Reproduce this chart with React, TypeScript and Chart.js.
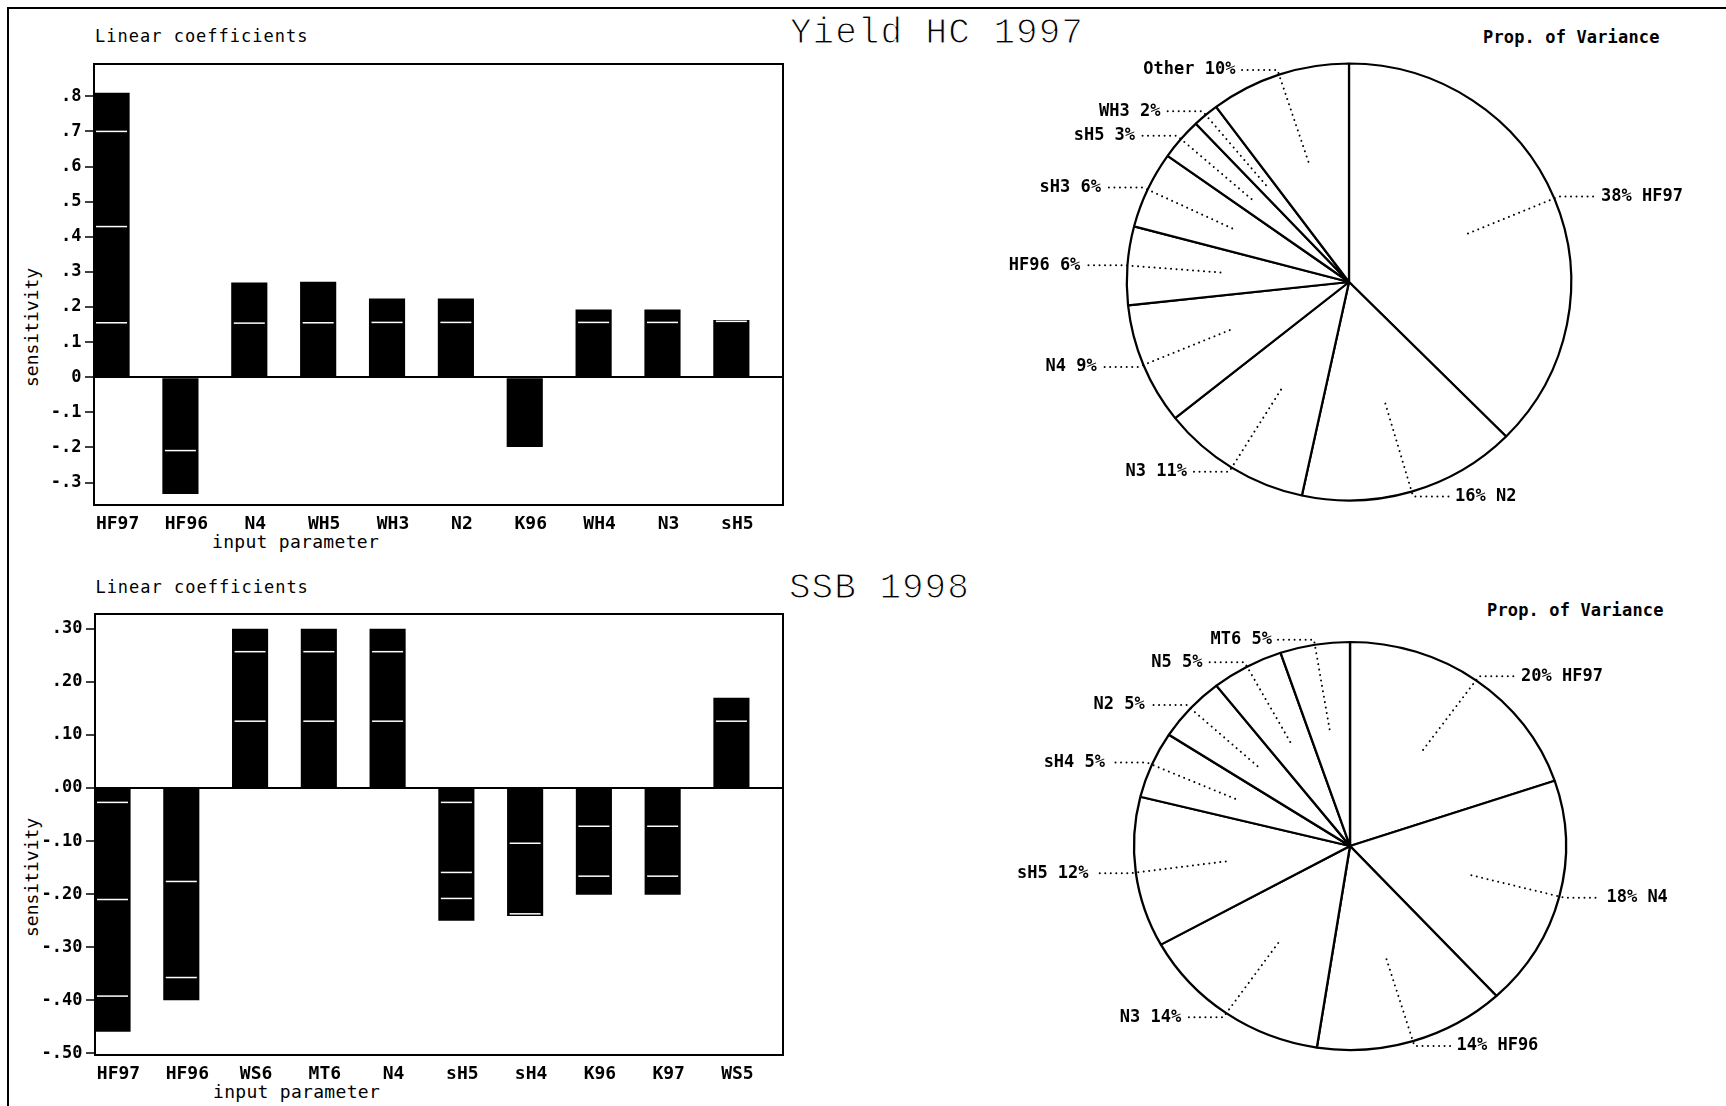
import React, { useEffect, useRef } from 'react';
import { Chart, registerables } from 'chart.js';

Chart.register(...registerables);

const MONO = '"DejaVu Sans Mono", "Liberation Mono", monospace';
const TITLE_FONT = '"Liberation Mono", "DejaVu Sans Mono", monospace';

// ---------- Yield HC 1997 : linear coefficients ----------
const hcCategories = ['HF97', 'HF96', 'N4', 'WH5', 'WH3', 'N2', 'K96', 'WH4', 'N3', 'sH5'];
const hcValues = [0.81, -0.333, 0.27, 0.272, 0.224, 0.224, -0.199, 0.193, 0.193, 0.163];
const hcMarks = [[0.70, 0.429, 0.155], [-0.209], [0.154], [0.155], [0.156], [0.156], [], [0.156], [0.156], [0.159]];
const hcYTicks = [-0.3, -0.2, -0.1, 0, 0.1, 0.2, 0.3, 0.4, 0.5, 0.6, 0.7, 0.8];
const hcYTickLabels = ['-.3', '-.2', '-.1', '0', '.1', '.2', '.3', '.4', '.5', '.6', '.7', '.8'];

// ---------- SSB 1998 : linear coefficients ----------
const ssbCategories = ['HF97', 'HF96', 'WS6', 'MT6', 'N4', 'sH5', 'sH4', 'K96', 'K97', 'WS5'];
const ssbValues = [-0.459, -0.40, 0.30, 0.30, 0.30, -0.25, -0.241, -0.201, -0.201, 0.17];
const ssbMarks = [[-0.027, -0.21, -0.392], [-0.176, -0.357], [0.257, 0.126], [0.257, 0.126], [0.257, 0.126], [-0.027, -0.159, -0.208], [-0.104, -0.237], [-0.072, -0.166], [-0.072, -0.166], [0.126]];
const ssbYTicks = [-0.5, -0.4, -0.3, -0.2, -0.1, 0, 0.1, 0.2, 0.3];
const ssbYTickLabels = ['-.50', '-.40', '-.30', '-.20', '-.10', '.00', '.10', '.20', '.30'];

// ---------- Proportion of variance ----------
const hcPieNames = ['HF97', 'N2', 'N3', 'N4', 'HF96', 'sH3', 'sH5', 'WH3', 'Other'];
const hcPieShares = [37.5, 15.9, 10.9, 9.0, 5.8, 5.7, 3.1, 1.9, 10.2];
const hcPiePercents = [38, 16, 11, 9, 6, 6, 3, 2, 10];

const ssbPieNames = ['HF97', 'N4', 'HF96', 'N3', 'sH5', 'sH4', 'N2', 'N5', 'MT6'];
const ssbPieShares = [19.8, 18.3, 14.3, 14.5, 11.9, 5.3, 5.2, 5.4, 5.2];
const ssbPiePercents = [20, 18, 14, 14, 12, 5, 5, 5, 5];

const framePlugin = {
  id: 'plotFrame',
  afterDraw(chart: any) {
    const { ctx, chartArea: a } = chart;
    if (!a) return;
    ctx.save();
    ctx.strokeStyle = '#000';
    ctx.lineWidth = 2;
    ctx.strokeRect(a.left, a.top, a.right - a.left, a.bottom - a.top);
    ctx.restore();
  },
};

function barConfig(p: {
  categories: string[]; values: number[]; marks: number[][];
  yTicks: number[]; yLabels: string[]; yMin: number; yMax: number;
  yFont: number; axisWidth: number; axisHeight: number; padTop: number; padRight: number;
}): any {
  const markPoints: { x: number; y: number }[] = [];
  p.marks.forEach((list, i) => list.forEach((v) => markPoints.push({ x: i, y: v })));
  return {
    type: 'bar',
    data: {
      datasets: [
        {
          type: 'scatter', data: markPoints, order: 1, showLine: false,
          pointStyle: 'line', pointRadius: 15.5, pointBorderColor: '#fff', pointBorderWidth: 1.5,
          pointBackgroundColor: '#fff',
        },
        {
          type: 'bar', data: p.values.map((v, i) => ({ x: i, y: v })), order: 2,
          backgroundColor: '#000', borderWidth: 0, categoryPercentage: 1, barPercentage: 0.525,
        },
      ],
    },
    options: {
      responsive: false, animation: false, events: [],
      layout: { padding: { top: p.padTop, right: p.padRight, left: 0, bottom: 0 } },
      plugins: { legend: { display: false }, tooltip: { enabled: false } },
      scales: {
        x: {
          type: 'linear', min: -0.255, max: 9.75, offset: false,
          border: { display: false },
          grid: { display: false, drawTicks: false },
          afterBuildTicks: (s: any) => { s.ticks = p.categories.map((_, i) => ({ value: i })); },
          afterFit: (s: any) => { s.height = p.axisHeight; },
          ticks: {
            autoSkip: false, maxRotation: 0, minRotation: 0, padding: 9, labelOffset: 6,
            color: '#000', font: { family: MONO, size: 18, weight: 'bold' },
            callback: (_v: any, i: number) => p.categories[i],
          },
        },
        y: {
          type: 'linear', min: p.yMin, max: p.yMax,
          border: { display: false },
          grid: {
            drawOnChartArea: true,
            color: (c: any) => (c.tick && c.tick.value === 0 ? '#000' : 'rgba(0,0,0,0)'),
            lineWidth: 2, drawTicks: true, tickLength: 9, tickColor: '#000', tickWidth: 1.5,
          },
          afterBuildTicks: (s: any) => { s.ticks = p.yTicks.map((v) => ({ value: v })); },
          afterFit: (s: any) => { s.width = p.axisWidth; },
          ticks: {
            padding: 3.5, color: '#000', font: { family: MONO, size: p.yFont, weight: 'bold' },
            callback: (_v: any, i: number) => p.yLabels[i],
          },
        },
      },
    },
    plugins: [framePlugin],
  };
}

// stretches the pie horizontally into the slight ellipse of the scanned figure
const ellipsePlugin = {
  id: 'ellipse',
  beforeDatasetsDraw(chart: any, _args: any, opts: any) {
    const arc = chart.getDatasetMeta(0).data[0];
    const ctx = chart.ctx;
    ctx.save();
    if (!arc) return;
    ctx.translate(arc.x, arc.y);
    ctx.scale(opts.sx || 1, 1);
    ctx.translate(-arc.x, -arc.y);
  },
  afterDatasetsDraw(chart: any) {
    chart.ctx.restore();
  },
};

const pieLabelPlugin = {
  id: 'pieLabels',
  afterDatasetsDraw(chart: any, _args: any, opts: any) {
    const ctx = chart.ctx;
    const sx = opts.sx || 1;
    const meta = chart.getDatasetMeta(0);
    meta.data.forEach((arc: any, i: number) => {
      const { x, y, startAngle, endAngle, outerRadius } = arc.getProps(['x', 'y', 'startAngle', 'endAngle', 'outerRadius'], true);
      const mid = (startAngle + endAngle) / 2;
      const c = Math.cos(mid);
      const s = Math.sin(mid);
      const ix = x + c * outerRadius * 0.58 * sx;
      const iy = y + s * outerRadius * 0.58;
      const ox = x + c * (outerRadius + 5) * sx;
      const oy = y + s * (outerRadius + 5);
      const right = c >= 0;
      const ex = ox + (right ? 36 : -36);
      ctx.save();
      ctx.strokeStyle = '#000';
      ctx.lineWidth = 2;
      ctx.lineCap = 'round';
      ctx.setLineDash([0.01, 5.5]);
      ctx.beginPath();
      ctx.moveTo(ix, iy);
      ctx.lineTo(ox, oy);
      ctx.lineTo(ex, oy);
      ctx.stroke();
      ctx.setLineDash([]);
      ctx.fillStyle = '#000';
      ctx.font = `bold 17px ${MONO}`;
      ctx.textBaseline = 'middle';
      ctx.textAlign = right ? 'left' : 'right';
      const name = opts.names[i];
      const pct = opts.percents[i];
      const text = right ? `${pct}% ${name}` : `${name} ${pct}%`;
      ctx.fillText(text, ex + (right ? 6 : -6), oy);
      ctx.restore();
    });
  },
};

function pieConfig(names: string[], shares: number[], percents: number[], radius: number, sx: number): any {
  return {
    type: 'pie',
    data: {
      labels: names,
      datasets: [{
        data: shares, backgroundColor: '#fff', borderColor: '#000', borderWidth: 2.2,
      }],
    },
    options: {
      responsive: false, animation: false, events: [],
      radius,
      plugins: {
        legend: { display: false }, tooltip: { enabled: false },
        ellipse: { sx },
        pieLabels: { names, percents, sx },
      },
    },
    plugins: [ellipsePlugin, pieLabelPlugin],
  };
}

function ChartCanvas({ left, top, width, height, make }: { left: number; top: number; width: number; height: number; make: () => any }) {
  const ref = useRef<HTMLCanvasElement>(null);
  useEffect(() => {
    const chart = new Chart(ref.current as HTMLCanvasElement, make());
    return () => chart.destroy();
  }, []);
  return (
    <canvas
      ref={ref}
      width={width}
      height={height}
      style={{ position: 'absolute', left, top, width, height }}
    />
  );
}

function Txt({ x, baseline, size, family = MONO, weight = 'normal', spacing = 0, asc = 0.846, thin = 0, children }: any) {
  const style: any = {
    position: 'absolute', left: x, top: baseline - asc * size,
    fontFamily: family, fontSize: size, lineHeight: `${size}px`, fontWeight: weight,
    letterSpacing: spacing, whiteSpace: 'nowrap', color: '#000',
  };
  if (thin) style.WebkitTextStroke = `${thin}px #fff`;
  return <div style={style}>{children}</div>;
}

function VTxt({ x, bottom, size, children }: any) {
  return (
    <div
      style={{
        position: 'absolute', left: x, top: bottom, fontFamily: MONO, fontSize: size,
        lineHeight: `${size}px`, whiteSpace: 'nowrap', color: '#000',
        transform: 'rotate(-90deg)', transformOrigin: '0 0',
      }}
    >
      {children}
    </div>
  );
}

export default function App() {
  return (
    <div style={{ position: 'absolute', left: 0, top: 0, width: 1726, height: 1106, overflow: 'hidden', background: '#fff' }}>
      <div style={{ position: 'absolute', left: 7, top: 7, width: 1800, height: 1200, borderLeft: '2px solid #000', borderTop: '2px solid #000' }} />

      <Txt x={95} baseline={42.3} size={17} spacing={1}>Linear coefficients</Txt>
      <Txt x={790} baseline={43.3} size={36} family={TITLE_FONT} asc={0.766} spacing={1} thin={1.1}>Yield HC 1997</Txt>
      <Txt x={1483} baseline={43.3} size={17} weight="bold" spacing={0.15}>Prop. of Variance</Txt>
      <Txt x={212} baseline={548.3} size={18} spacing={0.3}>input parameter</Txt>
      <VTxt x={23} bottom={387} size={18}>sensitivity</VTxt>

      <Txt x={95.4} baseline={593.8} size={17} spacing={1}>Linear coefficients</Txt>
      <Txt x={789} baseline={599} size={36} family={TITLE_FONT} asc={0.766} spacing={1} thin={1.1}>SSB 1998</Txt>
      <Txt x={1487} baseline={616} size={17} weight="bold" spacing={0.15}>Prop. of Variance</Txt>
      <Txt x={213} baseline={1098} size={18} spacing={0.3}>input parameter</Txt>
      <VTxt x={23} bottom={937} size={18}>sensitivity</VTxt>

      <ChartCanvas
        left={0} top={40} width={800} height={520}
        make={() => barConfig({
          categories: hcCategories, values: hcValues, marks: hcMarks,
          yTicks: hcYTicks, yLabels: hcYTickLabels, yMin: -0.364, yMax: 0.892,
          yFont: 17, axisWidth: 94, axisHeight: 55, padTop: 24, padRight: 14,
        })}
      />
      <ChartCanvas
        left={0} top={560} width={800} height={546}
        make={() => barConfig({
          categories: ssbCategories, values: ssbValues, marks: ssbMarks,
          yTicks: ssbYTicks, yLabels: ssbYTickLabels, yMin: -0.503, yMax: 0.328,
          yFont: 17, axisWidth: 95, axisHeight: 51, padTop: 54, padRight: 13,
        })}
      />
      <ChartCanvas
        left={971} top={22} width={756} height={520}
        make={() => pieConfig(hcPieNames, hcPieShares, hcPiePercents, 218.5, 1.017)}
      />
      <ChartCanvas
        left={972} top={606} width={756} height={480}
        make={() => pieConfig(ssbPieNames, ssbPieShares, ssbPiePercents, 204, 1.059)}
      />
    </div>
  );
}
